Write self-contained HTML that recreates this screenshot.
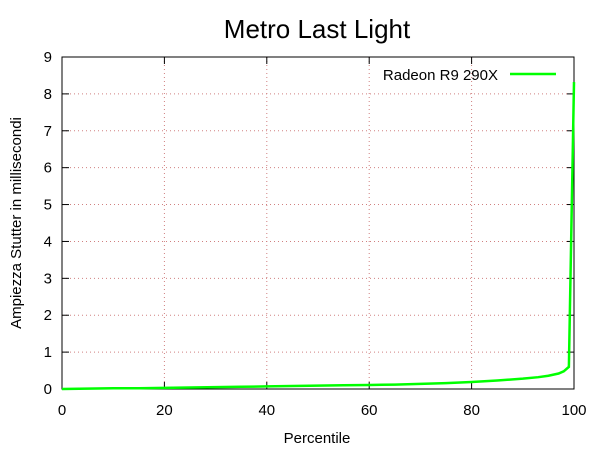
<!DOCTYPE html>
<html><head><meta charset="utf-8"><style>
body{margin:0;background:#fff}
svg text{font-family:"Liberation Sans","DejaVu Sans",sans-serif;fill:#000}
</style></head><body>
<svg id="c" width="600" height="450">
<text x="317" y="38" font-size="26" text-anchor="middle">Metro Last Light</text>
<text x="317" y="443" font-size="15" text-anchor="middle">Percentile</text>
<text transform="translate(21,223) rotate(-90)" font-size="15" text-anchor="middle">Ampiezza Stutter in millisecondi</text>
<g id="grid"></g><g id="axes"></g>
<g>
<text x="498" y="80" font-size="15" text-anchor="end">Radeon R9 290X</text>
<line x1="510" y1="74" x2="556" y2="74" stroke="#00ff00" stroke-width="2.5"/>
</g>
</svg>
<script>
const xTicks=[0,20,40,60,80,100];
const yTicks=[0,1,2,3,4,5,6,7,8,9];
const pct=[0,5,10,15,20,25,30,35,40,45,50,55,60,65,70,75,80,85,90,93,95,97,98,99,100];
const vals=[0,0.01,0.02,0.02,0.03,0.04,0.05,0.06,0.07,0.08,0.09,0.1,0.11,0.12,0.14,0.16,0.19,0.23,0.28,0.32,0.36,0.42,0.48,0.6,8.32];
const L=62,R=574,T=57,B=389;
const X=v=>L+(R-L)*v/100, Y=v=>B-(B-T)*v/9;
const NS="http://www.w3.org/2000/svg";
const svg=document.getElementById('c'),grid=document.getElementById('grid'),axes=document.getElementById('axes');
function mk(tag,at,p){const e=document.createElementNS(NS,tag);for(const k in at)e.setAttribute(k,at[k]);(p||svg).appendChild(e);return e;}
yTicks.forEach(v=>{
 if(v>0&&v<9){const g=mk('line',{x1:L,x2:R,y1:Y(v),y2:Y(v),stroke:'#d08080','stroke-width':1,'stroke-dasharray':'1,3'},grid);
 
 }
 const t=mk('line',{x1:L,x2:L+7,y1:Y(v),y2:Y(v),stroke:'#000'},axes);
 
 
 const t2=mk('line',{x1:R-7,x2:R,y1:Y(v),y2:Y(v),stroke:'#000'},axes);
 
 
 const l=mk('text',{x:L-10,y:Y(v)+5,'font-size':15,'text-anchor':'end'},axes);l.textContent=v;
 
 
});
xTicks.forEach(v=>{
 if(v>0&&v<100){const g=mk('line',{x1:X(v),x2:X(v),y1:T,y2:B,stroke:'#d08080','stroke-width':1,'stroke-dasharray':'1,3'},grid);
 
 }
 const t=mk('line',{x1:X(v),x2:X(v),y1:B-7,y2:B,stroke:'#000'},axes);
 
 
 const t2=mk('line',{x1:X(v),x2:X(v),y1:T,y2:T+7,stroke:'#000'},axes);
 
 
 const l=mk('text',{x:X(v),y:B+26,'font-size':15,'text-anchor':'middle'},axes);l.textContent=v;
 
 
});
const f=mk('rect',{x:L,y:T,width:R-L,height:B-T,fill:'none',stroke:'#000','stroke-width':1});


const p=mk('polyline',{points:pct.map((v,i)=>X(v)+','+Y(vals[i])).join(' '),fill:'none',stroke:'#00ff00','stroke-width':2.5});


</script>
</body></html>
